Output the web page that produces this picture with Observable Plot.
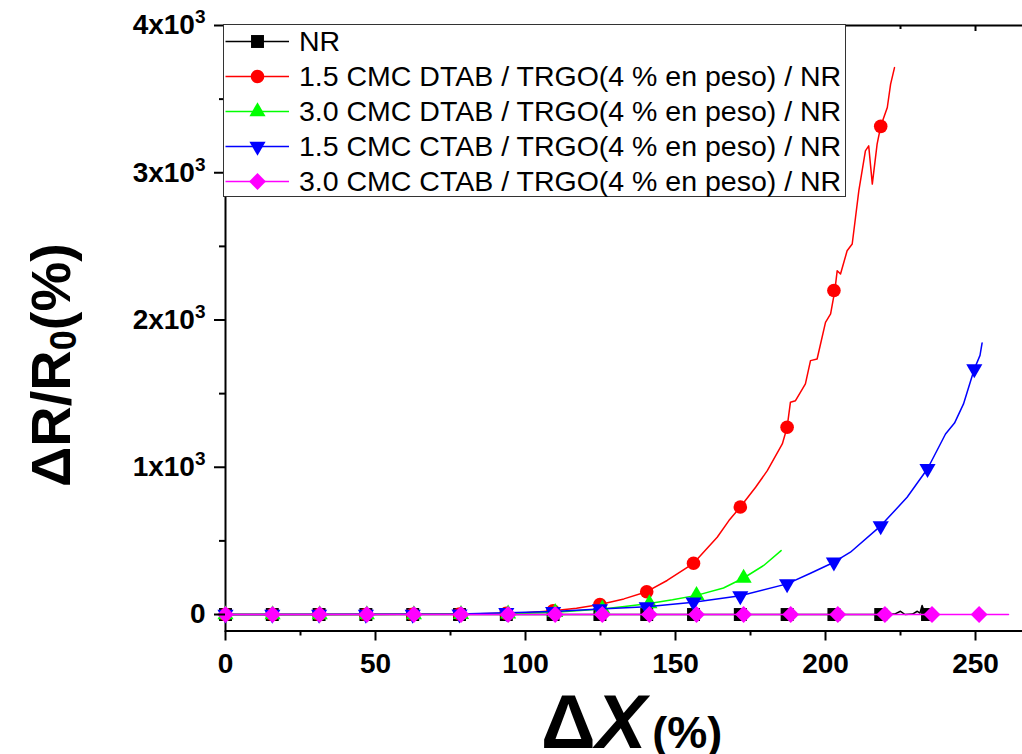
<!DOCTYPE html>
<html>
<head>
<meta charset="utf-8">
<script src="https://cdn.jsdelivr.net/npm/d3@7"></script>
<script src="https://cdn.jsdelivr.net/npm/@observablehq/plot@0.6"></script>
<style>
html, body { margin: 0; padding: 0; background: #fff; }
#wrap { position: relative; width: 1022px; height: 754px; overflow: hidden; font-family: "Liberation Sans", Arial, sans-serif; }
#legend { position: absolute; left: 223px; top: 24px; width: 623px; height: 173px; border: 1.5px solid #333; background: #fff; box-sizing: border-box; }
.row { position: absolute; left: 0; height: 35px; display: flex; align-items: center; font-size: 28.5px; line-height: 35px; color: #000; white-space: nowrap; }
.row svg { display: block; }
</style>
</head>
<body>
<div id="wrap"><div id="legend"></div></div>
<script>
// ---------- data ----------
const seriesNames = [
  "NR",
  "1.5 CMC DTAB / TRGO(4 % en peso) / NR",
  "3.0 CMC DTAB / TRGO(4 % en peso) / NR",
  "1.5 CMC CTAB / TRGO(4 % en peso) / NR",
  "3.0 CMC CTAB / TRGO(4 % en peso) / NR"
];

const xTicks = [0, 50, 100, 150, 200, 250];
const xMinorTicks = [25, 75, 125, 175, 225];
const yTicks = [0, 1000, 2000, 3000, 4000];
const yMinorTicks = [500, 1500, 2500, 3500];

// NR
const nrMarkX = [0, 15.6, 31.2, 46.8, 62.4, 78, 93.6, 109.2, 124.8, 140.4, 156, 171.6, 187.2, 202.8, 218.4, 234];
const nrMarkY = [0, 0, 0, 0, 0, 0, 0, 0, 0, 0, 0, 0, 0, 0, 0, 0];
const nrLineX = [0, 50, 100, 150, 200, 218.4, 223, 225, 226.5, 229, 230.6, 231.5, 232.2, 233, 234];
const nrLineY = [0, 0, 0, 0, 0, 0, 3, 22, 0, 3, 22, 10, 61, 15, 0];

// 1.5 CMC DTAB
const dtab15MarkX = [0, 15.6, 31.2, 46.8, 62.4, 78, 93.6, 109.2, 124.8, 140.4, 156, 171.6, 187.2, 202.8, 218.4];
const dtab15MarkY = [0, 0, 0, 0, 1, 3, 8, 25, 68, 155, 348, 730, 1272, 2200, 3315];
const dtab15LineX = [0, 30, 60, 80, 93.6, 100, 109.2, 117, 124.8, 132.8, 140.4, 147.2, 156, 163.9, 167.8, 171.6, 176.7, 180.6, 185.6, 187.2, 188.3, 190, 193.3, 195, 197.2, 200, 201.7, 203.1, 203.9, 205, 207.2, 208.9, 210, 211.1, 213.3, 214.4, 215.6, 217.2, 218.4, 220.6, 221.7, 223];
const dtab15LineY = [0, 0, 1, 3, 8, 12, 25, 42, 68, 106, 155, 231, 348, 525, 638, 730, 864, 977, 1158, 1271, 1441, 1452, 1566, 1724, 1735, 1984, 2041, 2199, 2335, 2312, 2470, 2516, 2696, 2877, 3149, 3183, 2923, 3194, 3315, 3443, 3602, 3714];

// 3.0 CMC DTAB
const dtab30MarkX = [0, 15.7, 31.4, 47.1, 62.8, 78.5, 94.2, 109.9, 125.6, 141.3, 157, 172.7];
const dtab30MarkY = [0, 0, 0, 0, 0, 1, 5, 15, 38, 75, 130, 248];
const dtab30LineX = [0, 40, 78.5, 94.2, 109.9, 125.6, 133, 141.3, 149, 157, 166, 172.7, 179.4, 185.2];
const dtab30LineY = [0, 0, 1, 5, 15, 38, 55, 75, 100, 130, 180, 248, 333, 434];

// 1.5 CMC CTAB
const ctab15MarkX = [0, 15.6, 31.2, 46.8, 62.4, 78, 93.6, 109.2, 124.8, 140.4, 156, 171.6, 187.2, 202.8, 218.4, 234, 249.6];
const ctab15MarkY = [0, 0, 0, 0, 0, 3, 12, 20, 38, 52, 84, 127, 208, 355, 602, 990, 1667];
const ctab15LineX = [0, 60, 78, 93.6, 109.2, 124.8, 140.4, 156, 171.6, 187.2, 195, 202.8, 208.3, 218.4, 227.2, 234, 236, 240, 243, 246, 249.6, 251.5, 252.2];
const ctab15LineY = [0, 1, 3, 12, 20, 38, 52, 84, 127, 208, 280, 355, 423, 602, 796, 990, 1068, 1226, 1300, 1430, 1667, 1760, 1844];

// 3.0 CMC CTAB
const ctab30MarkX = [0, 15.7, 31.4, 47.1, 62.8, 78.5, 94.2, 109.9, 125.6, 141.3, 157, 172.7, 188.4, 204.1, 219.8, 235.5, 251.2];
const ctab30MarkY = [0, 0, 0, 0, 0, 0, 0, 0, 0, 0, 0, 0, 0, 0, 0, 0, 0];
const ctab30LineX = [0, 100, 200, 261];
const ctab30LineY = [0, 0, 0, 0];

// ---------- helpers ----------
const toRows = (xs, ys) => xs.map((x, i) => ({x, y: ys[i]}));
const symbolTriangleDown = {
  draw(ctx, size) {
    const y = Math.sqrt(size / (Math.sqrt(3) * 3));
    ctx.moveTo(0, 2 * y);
    ctx.lineTo(Math.sqrt(3) * y, -y);
    ctx.lineTo(-Math.sqrt(3) * y, -y);
    ctx.closePath();
  }
};

const series = [
  {name: seriesNames[0], color: "#000000", symbol: d3.symbolSquare, r: 7.3, lx: nrLineX, ly: nrLineY, mx: nrMarkX, my: nrMarkY},
  {name: seriesNames[1], color: "#ff0000", symbol: d3.symbolCircle, r: 6.8, lx: dtab15LineX, ly: dtab15LineY, mx: dtab15MarkX, my: dtab15MarkY},
  {name: seriesNames[2], color: "#00ff00", symbol: d3.symbolTriangle, r: 6, lx: dtab30LineX, ly: dtab30LineY, mx: dtab30MarkX, my: dtab30MarkY},
  {name: seriesNames[3], color: "#0000ff", symbol: symbolTriangleDown, r: 6, lx: ctab15LineX, ly: ctab15LineY, mx: ctab15MarkX, my: ctab15MarkY},
  {name: seriesNames[4], color: "#ff00ff", symbol: d3.symbolDiamond2, r: 7.6, lx: ctab30LineX, ly: ctab30LineY, mx: ctab30MarkX, my: ctab30MarkY}
];

const marks = [Plot.frame({stroke: "#000", strokeWidth: 2})];
for (const s of series) {
  marks.push(Plot.line(toRows(s.lx, s.ly), {x: "x", y: "y", stroke: s.color, strokeWidth: 1.5}));
  marks.push(Plot.dot(toRows(s.mx, s.my), {x: "x", y: "y", r: s.r, symbol: s.symbol, fill: s.color, stroke: "none"}));
}
marks.push(
  Plot.axisX({ticks: xTicks, tickSize: 10, tickPadding: 12, strokeWidth: 2, fontSize: 28, fontWeight: "bold", label: null}),
  Plot.axisX({ticks: xMinorTicks, tickSize: 5, strokeWidth: 2, tickFormat: () => "", label: null}),
  Plot.axisX({anchor: "top", ticks: xTicks, tickSize: -5, strokeWidth: 2, tickFormat: () => "", label: null}),
  Plot.axisX({anchor: "top", ticks: xMinorTicks, tickSize: -3, strokeWidth: 2, tickFormat: () => "", label: null}),
  Plot.axisY({ticks: yTicks, tickSize: 11, tickPadding: 9, strokeWidth: 2, fontSize: 28, fontWeight: "bold", label: null,
    tickFormat: d => d === 0 ? "0" : `${d / 1000}x10`}),
  Plot.axisY({ticks: yMinorTicks, tickSize: 6, strokeWidth: 2, tickFormat: () => "", label: null})
);

const chart = Plot.plot({
  width: 1042,
  height: 754,
  marginLeft: 225,
  marginRight: 0,
  marginTop: 25,
  marginBottom: 123.5,
  x: {domain: [0, 272.33], label: null},
  y: {domain: [-112, 4000], label: null},
  style: {fontFamily: "'Liberation Sans', Arial, sans-serif", fontSize: "28px", fontWeight: "bold", color: "#000", background: "#fff", maxWidth: "none"},
  marks
});
document.getElementById("wrap").insertBefore(chart, document.getElementById("legend"));

const svg = d3.select(chart);
// superscript exponent on y tick labels
svg.selectAll('g[aria-label="y-axis tick label"] text').each(function () {
  const t = d3.select(this);
  if (t.text().endsWith("x10")) t.append("tspan").attr("dy", -11).attr("font-size", 19).text("3");
});

// axis titles
const yt = svg.append("text")
  .attr("transform", "translate(70,365) rotate(-90)")
  .attr("text-anchor", "middle")
  .attr("font-size", 56)
  .attr("font-weight", "bold")
  .attr("fill", "#000");
yt.append("tspan").text("ΔR/R");
yt.append("tspan").attr("font-size", 36).attr("dy", 6).text("0");
yt.append("tspan").attr("dy", -6).text("(%)");

const xt = svg.append("text")
  .attr("x", 541).attr("y", 748)
  .attr("text-anchor", "start")
  .attr("font-weight", "bold")
  .attr("fill", "#000");
xt.append("tspan").attr("font-size", 76).text("Δ");
xt.append("tspan").attr("font-size", 76).attr("font-style", "italic").text("X");
xt.append("tspan").attr("font-size", 45).attr("dx", 6).text("(%)");

// legend
const legend = d3.select("#legend");
series.forEach((s, i) => {
  const row = legend.append("div").attr("class", "row").style("top", `${i * 35 - 1.5}px`);
  const sw = row.append("svg").attr("width", 68).attr("height", 35);
  sw.append("line").attr("x1", 1.5).attr("x2", 65).attr("y1", 17.5).attr("y2", 17.5)
    .attr("stroke", s.color).attr("stroke-width", 1.5);
  sw.append("path").attr("transform", "translate(33.5,17.5)")
    .attr("d", d3.symbol(s.symbol, s.r * s.r * Math.PI)())
    .attr("fill", s.color);
  row.append("span").style("margin-left", "7px").text(s.name);
});
</script>
</body>
</html>
